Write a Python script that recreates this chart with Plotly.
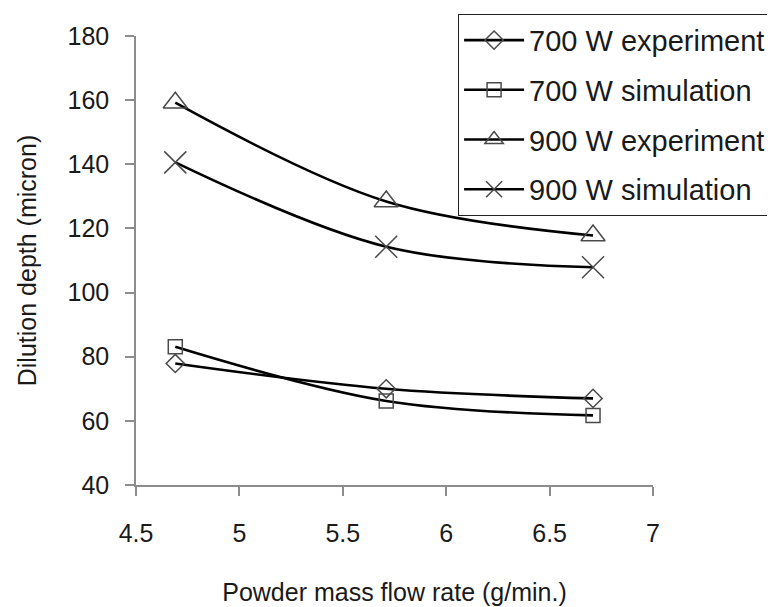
import plotly.graph_objects as go

flow_rate = [4.69, 5.71, 6.71]
exp_700 = [77.9, 70.0, 67.0]
sim_700 = [83.1, 66.2, 61.7]
exp_900 = [159.2, 128.4, 117.8]
sim_900 = [140.6, 114.3, 107.9]

series = [
    ("700 W experiment", exp_700, "diamond-open", 14),
    ("700 W simulation", sim_700, "square-open", 14),
    ("900 W experiment", exp_900, "triangle-up-open", 21),
    ("900 W simulation", sim_900, "x-thin-open", 22),
]

FONT = "Liberation Sans, Arial, sans-serif"

fig = go.Figure()
for i, (name, vals, sym, sz) in enumerate(series):
    fig.add_trace(go.Scatter(
        x=flow_rate, y=vals, name=name, mode="lines+markers",
        legendgroup=f"g{i}",
        line=dict(color="black", width=2.6, shape="spline", smoothing=1.0),
        marker=dict(symbol=sym, size=sz, color="#4a4a4a",
                    line=dict(width=1.5, color="#4a4a4a")),
    ))

# page body has an 8px margin, so shift the figure's own margins by 8px
fig.update_layout(
    width=775, height=607,
    paper_bgcolor="white", plot_bgcolor="white",
    margin=dict(l=128, r=130, t=28, b=130, autoexpand=False),
    font=dict(family=FONT, size=25, color="#1a1a1a"),
    showlegend=True,
    legend=dict(
        x=0.623, y=1.0496, xanchor="left", yanchor="top",
        bgcolor="white", bordercolor="#222", borderwidth=1,
        font=dict(family=FONT, size=29, color="#1a1a1a"),
        tracegroupgap=9, itemwidth=60,
    ),
    xaxis=dict(
        range=[4.5, 7], tickvals=[4.5, 5, 5.5, 6, 6.5, 7],
        ticktext=["4.5", "5", "5.5", "6", "6.5", "7"],
        showgrid=False, zeroline=False,
        showline=True, linecolor="#8c8c8c", linewidth=1.5,
        ticks="outside", ticklen=9, tickcolor="#8c8c8c", tickwidth=1.5,
        ticklabelstandoff=16,
        title=dict(text="Powder mass flow rate (g/min.)", standoff=38,
                   font=dict(family=FONT, size=25, color="#1a1a1a")),
    ),
    yaxis=dict(
        range=[40, 180], tickvals=[40, 60, 80, 100, 120, 140, 160, 180],
        showgrid=False, zeroline=False,
        showline=True, linecolor="#8c8c8c", linewidth=1.5,
        ticks="outside", ticklen=9, tickcolor="#8c8c8c", tickwidth=1.5,
        ticklabelstandoff=11,
        title=dict(text="Dilution depth (micron)", standoff=24,
                   font=dict(family=FONT, size=25, color="#1a1a1a")),
    ),
)

fig.write_html("out.html")
